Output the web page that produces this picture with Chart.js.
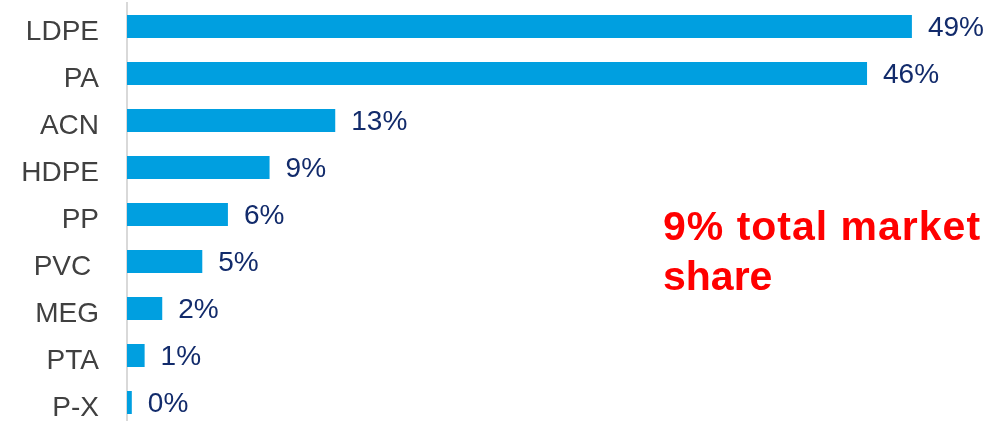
<!DOCTYPE html>
<html lang="en">
<head>
  <meta charset="UTF-8">
  <title>Market share by product</title>
  <script src="https://cdn.jsdelivr.net/npm/chart.js"></script>
  <style>
    html, body { margin: 0; padding: 0; background: #fff; overflow: hidden; }
    canvas { display: block; }
  </style>
</head>
<body>
  <canvas id="shareChart" width="1006" height="426"></canvas>
  <script>
    const products = ['LDPE', 'PA', 'ACN', 'HDPE', 'PP', 'PVC ', 'MEG', 'PTA', 'P-X'];
    const shares = [49.0, 46.2, 13.0, 8.9, 6.3, 4.7, 2.2, 1.1, 0.3];
    const noteLines = ['9% total market', 'share'];

    const FONT = "'Liberation Sans', Arial, sans-serif";

    // value labels at the end of each bar, plus the red note on the right
    const barLabels = {
      id: 'barLabels',
      afterDatasetsDraw(chart) {
        const ctx = chart.ctx;
        const meta = chart.getDatasetMeta(0);
        ctx.save();
        ctx.font = '28px ' + FONT;
        ctx.fillStyle = '#122b6b';
        ctx.textAlign = 'left';
        ctx.textBaseline = 'middle';
        meta.data.forEach((bar, i) => {
          ctx.fillText(Math.round(shares[i]) + '%', bar.x + 16, bar.y + 2);
        });
        ctx.font = 'bold 41px ' + FONT;
        ctx.fillStyle = '#ff0000';
        ctx.textBaseline = 'alphabetic';
        noteLines.forEach((line, i) => {
          ctx.letterSpacing = i === 0 ? '1px' : '0px';
          ctx.fillText(line, 663, 240 + i * 50);
        });
        ctx.restore();
      }
    };

    const chart = new Chart(document.getElementById('shareChart'), {
      type: 'bar',
      data: {
        labels: products,
        datasets: [{
          data: shares,
          backgroundColor: '#009fe0',
          borderWidth: 0,
          categoryPercentage: 1,
          barPercentage: 0.49
        }]
      },
      options: {
        indexAxis: 'y',
        responsive: false,
        animation: false,
        layout: { padding: { top: 3, right: 6, bottom: 0, left: 0 } },
        plugins: { legend: { display: false }, tooltip: { enabled: false } },
        scales: {
          x: { display: false, min: 0, max: 54.5 },
          y: {
            grid: { display: false },
            border: { display: true, color: '#d9d9d9', width: 2 },
            ticks: { color: '#404040', font: { family: FONT, size: 28 }, padding: 20, labelOffset: 6 },
            afterFit: scale => {
              scale.width = 127;
              scale.paddingTop = 0;
              scale.paddingBottom = 0;
            }
          }
        }
      },
      plugins: [barLabels]
    });
  </script>
</body>
</html>
